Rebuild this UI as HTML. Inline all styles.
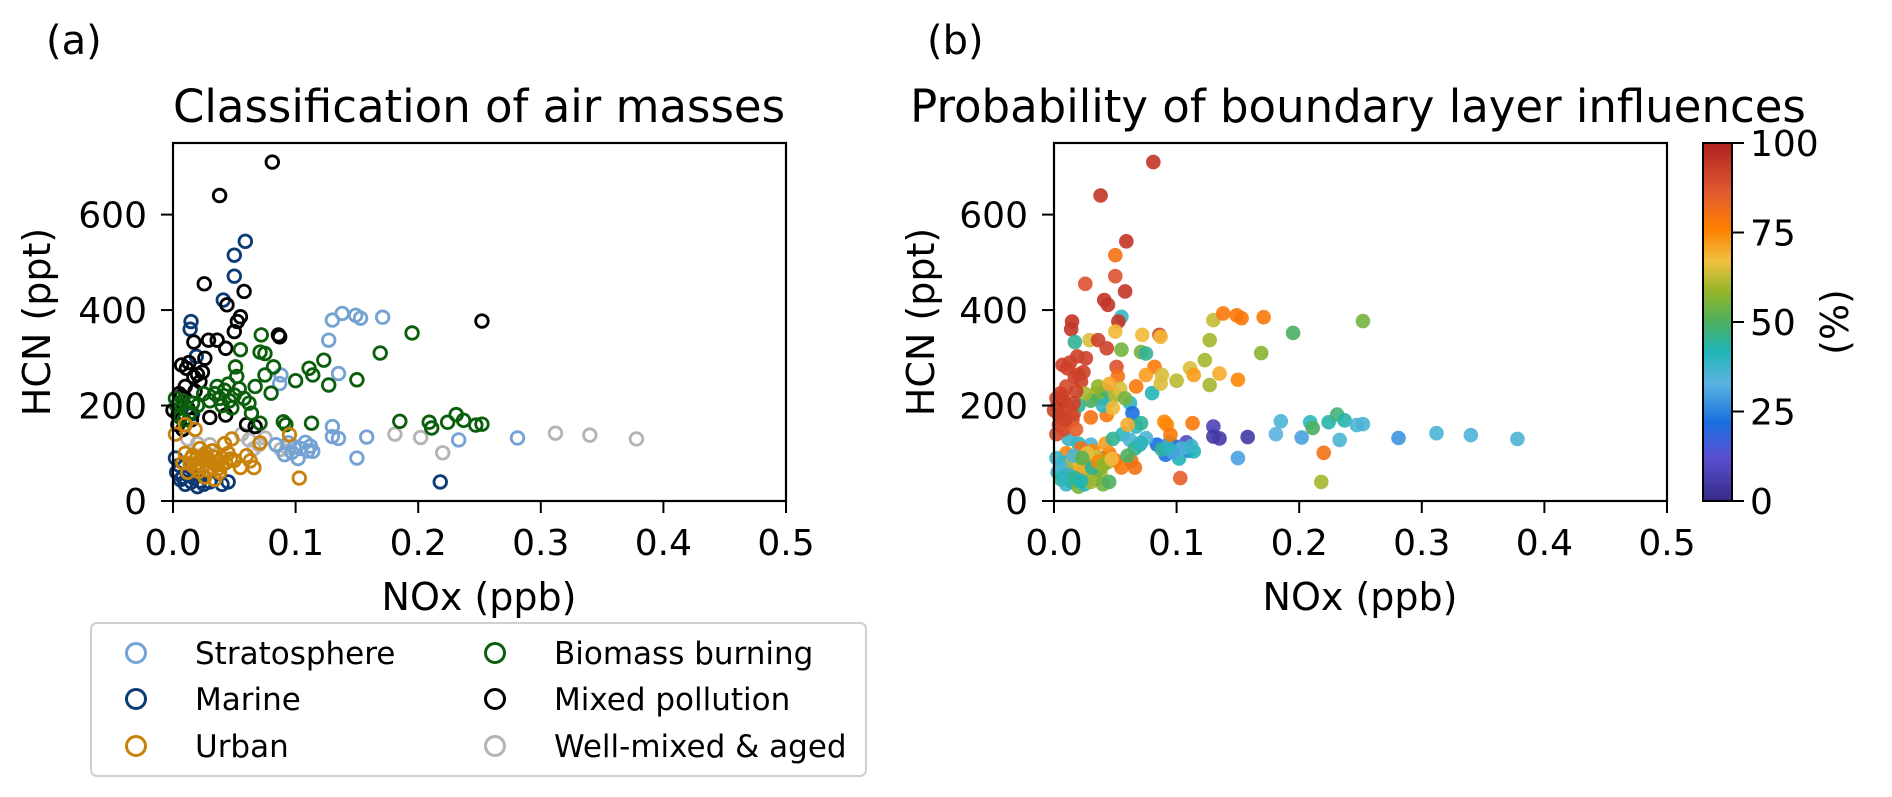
<!DOCTYPE html>
<html><head><meta charset="utf-8"><style>
html,body{margin:0;padding:0;background:#fff;}
svg{display:block;font-family:"DejaVu Sans","Liberation Sans",sans-serif;}
</style></head><body>
<svg id="fig" width="1892" height="797" viewBox="0 0 1892 797" xmlns="http://www.w3.org/2000/svg">
<defs>
<linearGradient id="cmap" x1="0" y1="1" x2="0" y2="0">
<stop offset="0" stop-color="#352a87"/><stop offset="0.12" stop-color="#5a4fd0"/><stop offset="0.22" stop-color="#1a6fe0"/><stop offset="0.33" stop-color="#5ab4e0"/><stop offset="0.42" stop-color="#20b5b5"/><stop offset="0.5" stop-color="#4caf60"/><stop offset="0.58" stop-color="#8fb52a"/><stop offset="0.67" stop-color="#f0c040"/><stop offset="0.76" stop-color="#ff8000"/><stop offset="0.86" stop-color="#e25a30"/><stop offset="1" stop-color="#b02020"/>
</linearGradient>
</defs>
<text x="46" y="54" font-size="40">(a)</text>
<text x="927" y="54" font-size="40">(b)</text>
<text x="479" y="122" font-size="45" text-anchor="middle">Classification of air masses</text>
<text x="1358" y="122" font-size="45" text-anchor="middle">Probability of boundary layer influences</text>
<g id="plotA"></g>
<g id="plotB"></g>
<g id="axA"></g>
<g id="axB"></g>
<text transform="translate(50,322) rotate(-90)" font-size="38" text-anchor="middle">HCN (ppt)</text>
<text transform="translate(934,322) rotate(-90)" font-size="38" text-anchor="middle">HCN (ppt)</text>
<text x="479" y="610" font-size="38" text-anchor="middle">NOx (ppb)</text>
<text x="1360" y="610" font-size="38" text-anchor="middle">NOx (ppb)</text>
<g id="cbar">
<rect x="1703" y="143" width="29" height="358" fill="url(#cmap)" stroke="#000" stroke-width="2"/>
</g>
<text transform="translate(1848,322) rotate(-90)" font-size="38" text-anchor="middle">(%)</text>
<g id="legend">
<rect x="91" y="623" width="775" height="153" rx="6" fill="#fff" stroke="#d0d0d0" stroke-width="2"/>
</g>
</svg>
<script>
const noxValues=[.081,.038,.059,.050,.050,.0255,.058,.041,.044,.055,.0525,.0147,.014,.050,.072,.086,.087,.029,.036,.043,.055,.017,.071,.075,.007,.019,.026,.011,.017,.022,.051,.052,.082,.075,.067,.080,.088,.087,.100,.111,.114,.123,.127,.135,.150,.130,.138,.149,.153,.171,.127,.252,.195,.169,
.005,.0,.016,.043,.062,.064,.067,.071,.090,.092,.113,.130,.130,.135,.158,.150,.103,.185,.181,.202,.209,.211,.220,.218,.224,.231,.237,.247,.252,.233,.281,.312,.340,.378,
.084,.094,.102,.110,.099,.108,.114,.091,.104,.097,.112,.088,.093,
.056,.062,.070,.075,.066,.020,.012,.030,
.034,.038,.042,.046,.050,.040,.048,.036,.054,.030,.025,.045,.058,.020,
.010,.005,.020,.015,.030,.060,.004,.008,.013,.024,.002,.018,
.003,.008,.012,.006,.014,.002,.010,.018,.004,.009,.016,.007,
.010,.015,.020,.025,.030,.035,.040,.018,.028,.022,.032,.045,.050,.055,.063,.066,.071,.095,.012,.038,.042,.008,.026,.034,.060,.048,
.014,.019,.024,.029,.033,.037,.043,.016,.027,.021,.031,.036,.040,.023,.047,
.003,.006,.010,.015,.020,.025,.030,.040,.005,.012,.045,.008,.017,.022,.002];
const hcnValues=[710,640,544,515,471,455,439,421,411,386,376,376,360,355,348,348,344,337,337,320,317,333,312,309,285,303,299,278,260,250,281,261,281,264,240,226,264,246,252,278,264,295,243,267,254,379,393,389,383,385,337,377,352,310,
205,190,183,180,205,184,156,163,166,160,163,156,135,131,134,90,48,167,140,133,165,153,101,40,165,181,169,159,161,128,132,142,138,130,
118,122,89,105,114,123,104,97,110,102,115,108,112,
140,128,118,132,110,120,130,118,
225,215,232,210,222,200,195,240,235,210,225,245,215,200,
240,225,265,170,175,160,160,150,290,270,215,230,
200,210,195,175,185,140,160,150,180,170,205,220,
100,90,80,95,85,75,90,70,65,110,105,100,85,70,84,70,122,139,60,60,120,80,50,45,95,130,
78,88,72,85,92,68,80,95,100,62,70,82,76,90,88,
60,45,35,40,30,35,40,35,75,55,40,50,48,42,90];
const classValues=["P","P","M","M","M","P","P","M","P","P","P","M","M","P","B","P","P","P","P","P","B","P","B","B","P","M","P","P","P","P","B","B","B","B","B","B","S","S","B","B","B","B","B","S","B","S","S","S","S","S","S","P","B","B",
"B","P","M","P","B","B","P","B","B","B","B","S","S","S","S","S","U","B","W","W","B","B","W","M","B","B","B","B","B","S","S","W","W","W",
"S","S","S","S","S","S","S","S","S","S","S","W","W",
"W","W","W","W","W","W","W","W",
"B","B","B","B","B","B","B","B","B","B","B","B","B","B",
"P","P","P","P","P","P","P","P","P","P","B","P",
"B","B","P","B","B","U","U","U","P","B","B","P",
"U","U","U","U","U","U","U","U","U","U","U","U","U","U","U","U","U","U","U","U","U","U","U","U","U","U",
"U","U","U","U","U","U","U","U","U","U","U","U","U","U","U",
"M","M","M","M","M","M","M","M","M","M","M","M","M","M","M"];
const probValues=[95,95,95,80,88,88,95,95,95,38,95,95,95,68,68,92,68,65,92,92,55,45,55,45,92,92,92,92,92,92,88,80,78,72,78,42,65,65,62,65,72,60,60,70,75,63,78,78,78,78,60,55,50,57,
92,92,92,78,40,22,40,45,75,75,78,8,5,5,5,30,85,35,33,30,40,50,80,60,43,48,43,35,35,35,28,35,35,35,
22,28,42,25,20,10,42,22,35,30,38,45,40,
40,35,38,35,45,40,38,35,
60,55,50,45,62,40,68,58,65,50,60,70,55,45,
90,92,92,90,80,70,92,90,92,92,90,92,
92,95,92,92,90,90,88,85,92,92,92,92,
75,70,65,60,70,65,55,62,58,80,75,78,80,78,80,80,40,78,85,60,72,40,60,55,50,45,
62,68,58,72,64,55,60,35,66,70,45,75,58,52,68,
40,45,38,42,55,40,60,55,35,38,50,40,45,42,38];
const xTicks=[0,0.1,0.2,0.3,0.4,0.5];
const xTickLabels=["0.0","0.1","0.2","0.3","0.4","0.5"];
const yTicks=[0,200,400,600];
const cbTicks=[0,25,50,75,100];
const legendLabels=["Stratosphere","Marine","Urban","Biomass burning","Mixed pollution","Well-mixed & aged"];
const legendKeys=["S","M","U","B","P","W"];

const NS="http://www.w3.org/2000/svg";
const classColors={S:"#74a3d3",M:"#0c3b73",U:"#c98209",B:"#0b5e0b",P:"#000000",W:"#b4b4b4"};
const classNames={S:"stratosphere",M:"marine",U:"urban",B:"biomass-burning",P:"mixed-pollution",W:"well-mixed-aged"};
const TOP=143,BOT=501,YMAX=750;
function yScale(v){return BOT-v/YMAX*(BOT-TOP);}
function xScaleA(v){return 173+v/0.5*613;}
function xScaleB(v){return 1054+v/0.5*613;}
const cstops=[[0,[53,42,135]],[12,[90,79,208]],[22,[26,111,224]],[33,[90,180,224]],[42,[32,181,181]],[50,[76,175,96]],[58,[143,181,42]],[67,[240,192,64]],[76,[255,128,0]],[86,[226,90,48]],[100,[176,32,32]]];
function cmap(p){for(let i=1;i<cstops.length;i++){if(p<=cstops[i][0]){const a=cstops[i-1],b=cstops[i];const t=(p-a[0])/(b[0]-a[0]);const c=a[1].map((v,k)=>Math.round(v+(b[1][k]-v)*t));return "rgb("+c.join(",")+")";}}return "rgb(176,32,32)";}
function mk(tag,attrs,parent){const e=document.createElementNS(NS,tag);for(const k in attrs)e.setAttribute(k,attrs[k]);parent.appendChild(e);return e;}

const plotA=document.getElementById("plotA"),plotB=document.getElementById("plotB");
const order=["W","S","M","P","B","U"];
order.forEach(function(c){
  for(let i=0;i<noxValues.length;i++){
    if(classValues[i]!==c)continue;
    const el=mk("circle",{cx:xScaleA(noxValues[i]),cy:yScale(hcnValues[i]),r:6.3,fill:"none",stroke:classColors[c],"stroke-width":2.8},plotA);
    
    
  }
});
for(let i=0;i<noxValues.length;i++){
  const el=mk("circle",{cx:xScaleB(noxValues[i]),cy:yScale(hcnValues[i]),r:7.3,fill:cmap(probValues[i]),"fill-opacity":0.9},plotB);
  
  
}
function drawAxes(g,xs,left){
  const fr=mk("rect",{x:left,y:TOP,width:613,height:BOT-TOP,fill:"none",stroke:"#000","stroke-width":2.2},g);
  
  
  xTicks.forEach(function(t,i){
    const x=xs(t);
    const tk=mk("line",{x1:x,x2:x,y1:BOT,y2:BOT+12,stroke:"#000","stroke-width":2},g);
    
    
    const lb=mk("text",{x:x,y:555,"font-size":36,"text-anchor":"middle"},g);
    lb.textContent=xTickLabels[i];
    
    
  });
  yTicks.forEach(function(t){
    const y=yScale(t);
    const tk=mk("line",{x1:left-12,x2:left,y1:y,y2:y,stroke:"#000","stroke-width":2},g);
    
    
    const lb=mk("text",{x:left-26,y:y+13,"font-size":36,"text-anchor":"end"},g);
    lb.textContent=String(t);
    
    
  });
}
drawAxes(document.getElementById("axA"),xScaleA,173);
drawAxes(document.getElementById("axB"),xScaleB,1054);
const cb=document.getElementById("cbar");
cbTicks.forEach(function(t){
  const y=BOT-t/100*(BOT-TOP);
  const tk=mk("line",{x1:1732,x2:1744,y1:y,y2:y,stroke:"#000","stroke-width":2},cb);
  
  
  const lb=mk("text",{x:1750,y:y+13,"font-size":36},cb);
  lb.textContent=String(t);
  
  
});
const lg=document.getElementById("legend");
legendKeys.forEach(function(k,i){
  const col=Math.floor(i/3),row=i%3;
  const mx=[136,495][col],tx=[195,554][col],y=[653,699,746][row];
  const m=mk("circle",{cx:mx,cy:y,r:9.5,fill:"none",stroke:classColors[k],"stroke-width":3},lg);
  
  
  const t=mk("text",{x:tx,y:y+11,"font-size":31},lg);
  t.textContent=legendLabels[i];
  
  
});
</script>
</body></html>
